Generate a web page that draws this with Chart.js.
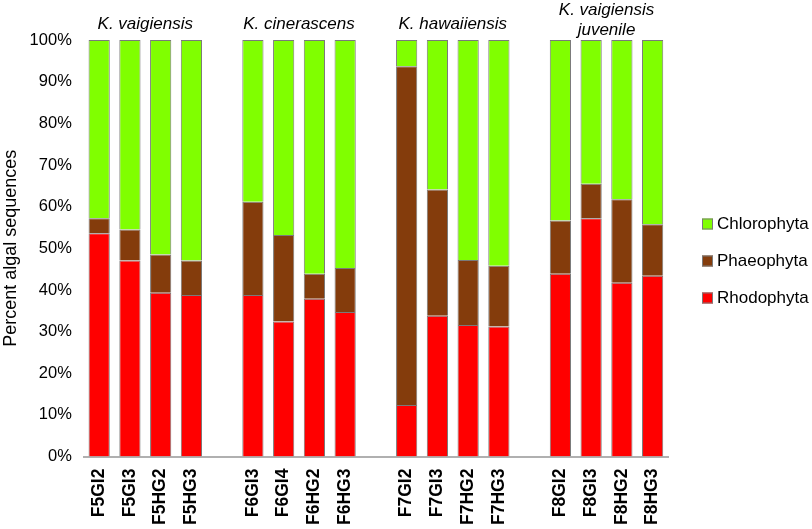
<!DOCTYPE html>
<html>
<head>
<meta charset="utf-8">
<script src="https://cdn.jsdelivr.net/npm/chart.js@4.4.1/dist/chart.umd.min.js"></script>
<style>
  html, body { margin: 0; padding: 0; background: #fff; }
  #wrap { width: 812px; height: 529px; }
</style>
</head>
<body>
<div id="wrap"><canvas id="algaeChart"></canvas></div>
<script>
// samples, '' = spacer between host groups
var samples = ['F5GI2', 'F5GI3', 'F5HG2', 'F5HG3', '',
               'F6GI3', 'F6GI4', 'F6HG2', 'F6HG3', '',
               'F7GI2', 'F7GI3', 'F7HG2', 'F7HG3', '',
               'F8GI2', 'F8GI3', 'F8HG2', 'F8HG3'];

var rhodophyta  = [53.6, 47.1, 39.3, 38.8, null, 38.8, 32.4, 37.9, 34.7, null, 12.4, 33.8, 31.6, 31.2, null, 43.9, 57.2, 41.7, 43.4];
var phaeophyta  = [3.6, 7.4, 9.2, 8.3, null, 22.4, 20.8, 6.0, 10.6, null, 81.3, 30.3, 15.6, 14.6, null, 12.8, 8.3, 20.1, 12.4];
var chlorophyta = [42.8, 45.5, 51.5, 52.9, null, 38.8, 46.8, 56.1, 54.7, null, 6.3, 35.9, 52.8, 54.2, null, 43.3, 34.5, 38.2, 44.2];

var yTicks = [0, 10, 20, 30, 40, 50, 60, 70, 80, 90, 100];

// host species above each group: [first index, last index, lines]
var groupTitles = [
  [0, 3, ['K. vaigiensis']],
  [5, 8, ['K. cinerascens']],
  [10, 13, ['K. hawaiiensis']],
  [15, 18, ['K. vaigiensis', 'juvenile']]
];

var FONT = '"Liberation Sans", Arial, sans-serif';

var groupTitlePlugin = {
  id: 'groupTitles',
  afterDraw: function(chart) {
    var ctx = chart.ctx;
    var x = chart.scales.x;
    var top = chart.chartArea.top;
    ctx.save();
    ctx.font = 'italic 17px ' + FONT;
    ctx.fillStyle = '#000';
    ctx.textAlign = 'center';
    ctx.textBaseline = 'middle';
    groupTitles.forEach(function(g) {
      var cx = (x.getPixelForValue(g[0]) + x.getPixelForValue(g[1])) / 2;
      var lines = g[2];
      var y0 = lines.length > 1 ? top - 30 : top - 16;
      lines.forEach(function(t, i) {
        ctx.fillText(t, cx, y0 + i * 20);
      });
    });
    ctx.restore();
  }
};

// legend to the right of the plot, top series first
var sideLegendPlugin = {
  id: 'sideLegend',
  afterDraw: function(chart) {
    var ctx = chart.ctx;
    var area = chart.chartArea;
    var sets = chart.data.datasets.slice().reverse();
    var x0 = area.right + 34;
    var y0 = area.top + 184;
    ctx.save();
    ctx.font = '17px ' + FONT;
    ctx.textBaseline = 'middle';
    sets.forEach(function(ds, i) {
      var y = y0 + i * 37;
      ctx.fillStyle = ds.backgroundColor;
      ctx.fillRect(x0, y - 5.5, 11, 11);
      ctx.strokeStyle = '#7a7a7a';
      ctx.lineWidth = 1;
      ctx.strokeRect(x0 + 0.5, y - 5, 10, 10);
      ctx.fillStyle = '#000';
      ctx.fillText(ds.label, x0 + 15, y);
    });
    ctx.restore();
  }
};

var ctx = document.getElementById('algaeChart').getContext('2d');
var algaeChart = new Chart(ctx, {
  type: 'bar',
  data: {
    labels: samples,
    datasets: [{
      label: 'Rhodophyta',
      data: rhodophyta,
      backgroundColor: '#ff0000',
      borderColor: '#7a7a7a',
      borderWidth: 1
    }, {
      label: 'Phaeophyta',
      data: phaeophyta,
      backgroundColor: '#843c0c',
      borderColor: '#7a7a7a',
      borderWidth: 1
    }, {
      label: 'Chlorophyta',
      data: chlorophyta,
      backgroundColor: '#80ff00',
      borderColor: '#7a7a7a',
      borderWidth: 1
    }]
  },
  options: {
    responsive: true,
    maintainAspectRatio: false,
    animation: false,
    barPercentage: 0.69,
    categoryPercentage: 1,
    layout: { padding: { top: 40, right: 144, left: 0 } },
    plugins: {
      legend: { display: false },
      tooltip: { enabled: false }
    },
    scales: {
      x: {
        stacked: true,
        grid: { display: false },
        border: { color: '#b0b0b0', width: 2 },
        ticks: {
          color: '#000',
          minRotation: 90,
          maxRotation: 90,
          autoSkip: false,
          padding: 4,
          font: { family: FONT, size: 17.5, weight: 'bold' }
        }
      },
      y: {
        stacked: true,
        min: 0,
        max: 100,
        afterBuildTicks: function(axis) {
          axis.ticks = yTicks.map(function(v) { return { value: v }; });
        },
        grid: { display: false },
        border: { display: false },
        ticks: {
          color: '#000',
          padding: 4,
          callback: function(v) { return v + '%'; },
          font: { family: FONT, size: 16.5 }
        },
        title: {
          display: true,
          text: 'Percent algal sequences',
          color: '#000',
          padding: { top: 0, bottom: 4 },
          font: { family: FONT, size: 18 }
        }
      }
    }
  },
  plugins: [groupTitlePlugin, sideLegendPlugin]
});
</script>
</body>
</html>
